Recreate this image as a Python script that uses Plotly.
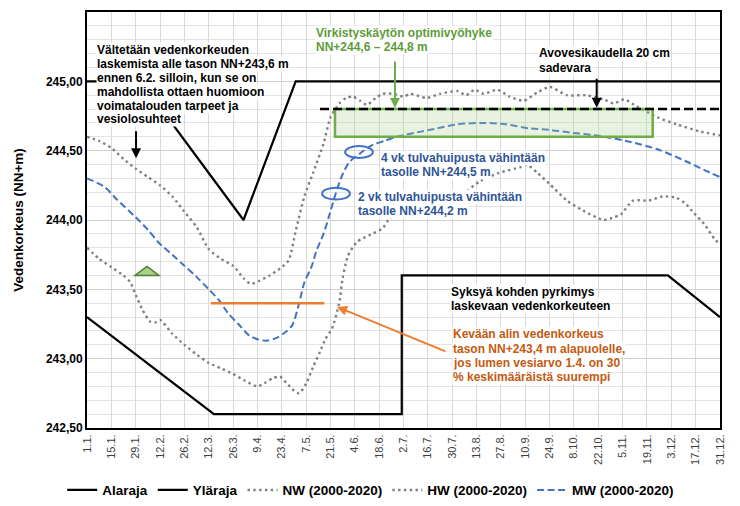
import plotly.graph_objects as go

# day of year -> date labels on the x axis
tick_days = [1, 15, 29, 43, 57, 71, 85, 99, 113, 127, 141, 155, 169, 183, 197,
             211, 225, 239, 253, 267, 281, 295, 309, 323, 337, 351, 365]
tick_labels = ["1.1.", "15.1.", "29.1.", "12.2.", "26.2.", "12.3.", "26.3.", "9.4.",
               "23.4.", "7.5.", "21.5.", "4.6.", "18.6.", "2.7.", "16.7.", "30.7.",
               "13.8.", "27.8.", "10.9.", "24.9.", "8.10.", "22.10.", "5.11.", "19.11.",
               "3.12.", "17.12.", "31.12."]

# regulation limits
ala_days = [1, 74, 182, 182, 335, 365]
ala_vals = [243.3, 242.6, 242.6, 243.6, 243.6, 243.3]
yla_days = [1, 32, 91, 121, 365]
yla_vals = [245.0, 245.0, 244.0, 245.0, 245.0]

# NW (2000-2020)
nw_days = [1, 8, 15, 22, 26, 29, 33, 37, 40, 43, 50, 57, 64, 71, 78, 85, 92, 99,
           104, 108, 112, 116, 120, 123, 127, 131, 135, 138, 142, 146, 148, 151,
           156, 160, 165, 171, 175, 185, 195, 205, 217, 227, 238, 250, 254, 260,
           267, 277, 286, 298, 304, 308, 315, 324, 332, 340, 345, 350, 356, 362, 365]
nw_vals = [243.80, 243.72, 243.66, 243.60, 243.55, 243.46, 243.35, 243.27, 243.26,
           243.28, 243.18, 243.10, 243.03, 242.97, 242.93, 242.89, 242.84, 242.80,
           242.83, 242.86, 242.87, 242.82, 242.77, 242.75, 242.82, 242.94, 243.05,
           243.14, 243.22, 243.40, 243.58, 243.74, 243.84, 243.87, 243.90, 243.94,
           244.01, 244.06, 244.10, 244.14, 244.19, 244.28, 244.34, 244.38, 244.40,
           244.34, 244.26, 244.14, 244.07, 244.00, 244.02, 244.04, 244.14, 244.14,
           244.17, 244.16, 244.12, 244.05, 243.97, 243.86, 243.83]

# HW (2000-2020)
hw_days = [1, 8, 15, 22, 29, 36, 43, 50, 57, 64, 71, 78, 85, 91, 95, 100, 106, 112,
           117, 121, 126, 131, 137, 141, 146, 150, 154, 158, 162, 167, 171, 177, 183,
           187, 196, 204, 214, 219, 224, 229, 237, 244, 252, 260, 267, 277, 288, 298,
           304, 310, 317, 323, 329, 340, 353, 365]
hw_vals = [244.60, 244.57, 244.52, 244.44, 244.37, 244.31, 244.25, 244.17, 244.06,
           243.95, 243.79, 243.72, 243.67, 243.58, 243.54, 243.56, 243.60, 243.65,
           243.71, 243.92, 244.17, 244.34, 244.55, 244.74, 244.84, 244.88, 244.89,
           244.86, 244.83, 244.88, 244.91, 244.91, 244.89, 244.91, 244.88, 244.91,
           244.93, 244.90, 244.94, 244.91, 244.94, 244.89, 244.86, 244.92, 244.96,
           244.90, 244.90, 244.87, 244.84, 244.87, 244.82, 244.78, 244.74, 244.69,
           244.64, 244.61]

# MW (2000-2020)
mw_days = [1, 11, 18, 29, 36, 42, 50, 57, 64, 71, 77, 82, 88, 94, 99, 104, 110, 115,
           119, 123, 126, 130, 133, 137, 140, 144, 148, 152, 158, 165, 172, 179, 190,
           202, 214, 229, 242, 256, 267, 279, 294, 311, 329, 346, 356, 365]
mw_vals = [244.30, 244.24, 244.15, 244.02, 243.93, 243.84, 243.75, 243.67, 243.59,
           243.50, 243.42, 243.33, 243.25, 243.17, 243.14, 243.13, 243.15, 243.19,
           243.24, 243.40, 243.55, 243.66, 243.78, 243.90, 244.02, 244.19, 244.33,
           244.42, 244.48, 244.54, 244.57, 244.60, 244.63, 244.66, 244.69, 244.70,
           244.69, 244.66, 244.65, 244.63, 244.61, 244.57, 244.51, 244.42, 244.36,
           244.31]

FONT = "Liberation Sans, Arial, sans-serif"
GRAY = "#7F7F7F"
BLUE = "#4472C4"
GREEN = "#70AD47"
ORANGE = "#ED7D31"
DOTS = "2.4px,3.4px"

fig = go.Figure()
fig.add_trace(go.Scatter(x=ala_days, y=ala_vals, mode="lines", name="Alaraja",
                         line=dict(color="black", width=2.2)))
fig.add_trace(go.Scatter(x=yla_days, y=yla_vals, mode="lines", name="Yläraja",
                         line=dict(color="black", width=2.2)))
fig.add_trace(go.Scatter(x=nw_days, y=nw_vals, mode="lines", name="NW (2000-2020)",
                         line=dict(color=GRAY, width=2.4, dash=DOTS, shape="spline", smoothing=0.6)))
fig.add_trace(go.Scatter(x=hw_days, y=hw_vals, mode="lines", name="HW (2000-2020)",
                         line=dict(color=GRAY, width=2.4, dash=DOTS, shape="spline", smoothing=0.6)))
fig.add_trace(go.Scatter(x=mw_days, y=mw_vals, mode="lines", name="MW (2000-2020)",
                         line=dict(color=BLUE, width=2, dash="7px,3.5px", shape="spline", smoothing=0.8)))

# recreation optimum zone, rain reserve line, spring low level line
fig.add_shape(type="rect", x0=143.6, x1=326.3, y0=244.6, y1=244.8, layer="above",
              fillcolor="rgba(169,209,142,0.28)", line=dict(color=GREEN, width=2.5))
fig.add_shape(type="line", x0=135, x1=365, y0=244.8, y1=244.8, layer="above",
              line=dict(color="black", width=2.5, dash="9px,4px"))
fig.add_shape(type="line", x0=72.3, x1=137.5, y0=243.4, y1=243.4, layer="above",
              line=dict(color=ORANGE, width=2.5))

# flood peak circles
for cx, cy in [(157.4, 244.49), (144.2, 244.19)]:
    fig.add_shape(type="circle", x0=cx - 8, x1=cx + 8, y0=cy - 0.043, y1=cy + 0.043,
                  layer="above", line=dict(color=BLUE, width=2))

# green triangle marker
fig.add_shape(type="path", xsizemode="pixel", ysizemode="pixel", xanchor=35.5, yanchor=243.6,
              path="M -12 0 L 12 0 L 0 9 Z", layer="above",
              fillcolor="#A9D18E", line=dict(color="#507E32", width=1.5))


def add_text(lines, x, y, color, gap=14.0):
    for i, line in enumerate(lines):
        fig.add_annotation(x=x, y=y, xref="x", yref="y", text="<b>" + line + "</b>",
                           showarrow=False, xanchor="left", yanchor="middle",
                           yshift=-i * gap, bgcolor="white", borderpad=0,
                           font=dict(family=FONT, size=12, color=color))


add_text(["Vältetään vedenkorkeuden", "laskemista alle tason NN+243,6 m",
          "ennen 6.2. silloin, kun se on", "mahdollista ottaen huomioon",
          "voimatalouden tarpeet ja", "vesiolosuhteet"], 6.0, 245.226, "black", 13.9)
add_text(["Virkistyskäytön optimivyöhyke", "NN+244,6 – 244,8 m"], 132.0, 245.349, "#5E9C3A", 14.5)
add_text(["Avovesikaudella 20 cm", "sadevara"], 260.5, 245.204, "black", 14.5)
add_text(["4 vk tulvahuipusta vähintään", "tasolle NN+244,5 m"], 169.5, 244.445, "#2F5597", 13.5)
add_text(["2 vk tulvahuipusta vähintään", "tasolle NN+244,2 m"], 156.1, 244.168, "#2F5597", 14.5)
add_text(["Syksyä kohden pyrkimys", "laskevaan vedenkorkeuteen"], 209.7, 243.479, "black", 13.8)
add_text(["Kevään alin vedenkorkeus", "tason NN+243,4 m alapuolelle,",
          "jos lumen vesiarvo 1.4. on 30", "% keskimääräistä suurempi"],
         210.7, 243.176, "#C55A11", 14.3)

# arrows
for tip, tail, col in [((29.2, 244.445), (29.2, 244.65), "black"),
                       ((178.1, 244.808), (178.1, 245.154), GREEN),
                       ((294.1, 244.81), (294.1, 245.03), "black"),
                       ((144.8, 243.373), (208.0, 243.048), ORANGE)]:
    fig.add_annotation(x=tip[0], y=tip[1], ax=tail[0], ay=tail[1], xref="x", yref="y",
                       axref="x", ayref="y", text="", showarrow=True, arrowhead=2,
                       arrowsize=1, arrowwidth=2, arrowcolor=col, standoff=0)

# page body adds an 8 px offset, so the figure is 16 px smaller than the window
fig.update_layout(
    width=724, height=490,
    margin=dict(l=79, r=12, t=4, b=70, autoexpand=False),
    plot_bgcolor="white", paper_bgcolor="white",
    separators=", ",
    font=dict(family=FONT, size=12, color="black"),
    showlegend=True,
    legend=dict(orientation="h", xref="container", yref="container", x=0.501, y=0.016,
                xanchor="center", yanchor="middle", font=dict(size=13.5, weight="bold"),
                tracegroupgap=0),
)
fig.update_xaxes(range=[1, 365], tickvals=tick_days, ticktext=tick_labels, tickangle=-90,
                 tickfont=dict(size=11, color="#404040"), showgrid=True, gridcolor="#D9D9D9",
                 gridwidth=1, zeroline=False, showline=True, linecolor="black", linewidth=2,
                 mirror=True, ticks="")
fig.update_yaxes(range=[242.5, 245.5], dtick=0.5, tickformat=".2f",
                 tickfont=dict(size=12, weight="bold"), showgrid=True, gridcolor="#D0D0D0",
                 minor=dict(dtick=0.1, showgrid=True, gridcolor="#E4E4E4", gridwidth=1),
                 zeroline=False, showline=True, linecolor="black", linewidth=2, mirror=True,
                 ticks="", title=dict(text="Vedenkorkeus (NN+m)", standoff=19,
                                      font=dict(size=13.5, weight="bold")))

fig.write_html("out.html")
